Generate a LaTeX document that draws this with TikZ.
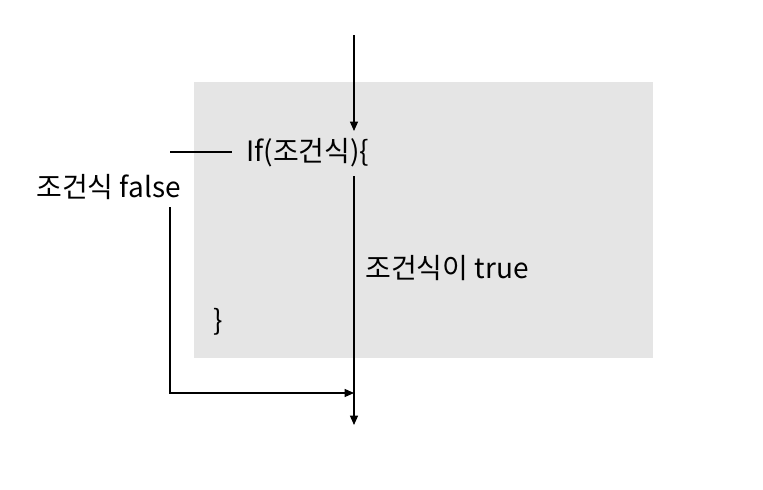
\documentclass[tikz,border=0pt]{standalone}
\usepackage{fontspec}
\setmainfont{Noto Sans CJK KR}
\usetikzlibrary{arrows.meta}
\begin{document}
\begin{tikzpicture}[x=0.75pt,y=-0.75pt,
  txt/.style={inner sep=0pt,font=\fontsize{21}{24}\selectfont},
  conn/.style={draw=black,line width=0.9pt},
  arr/.style={conn,-{Triangle[length=7pt,width=6pt]}}]
\useasboundingbox (0,0) rectangle (763,489);
\fill[fill=black!10] (194,82) rectangle (653,358);
\node[txt,anchor=west] (if) at (246,153) {If(조건식)\{};
\node[txt,anchor=west] (false) at (36,187) {조건식 false};
\node[txt,anchor=west] (true) at (365,268) {조건식이 true};
\node[txt,anchor=west] (close) at (213,322) {\}};
\coordinate (top) at (354,35);
\coordinate (ifin) at (354,131);
\coordinate (ifout) at (354,176);
\coordinate (bottom) at (354,425);
\coordinate (merge) at (354,393);
\coordinate (fstart) at (170,207);
\coordinate (fcorner) at (170,393);
\coordinate (lstart) at (170,152);
\coordinate (lend) at (232,152);
\draw[arr] (top) -- (ifin);
\draw[arr] (ifout) -- (bottom);
\draw[conn] (lstart) -- (lend);
\draw[arr] (fstart) -- (fcorner) -- (merge);
\end{tikzpicture}
\end{document}
